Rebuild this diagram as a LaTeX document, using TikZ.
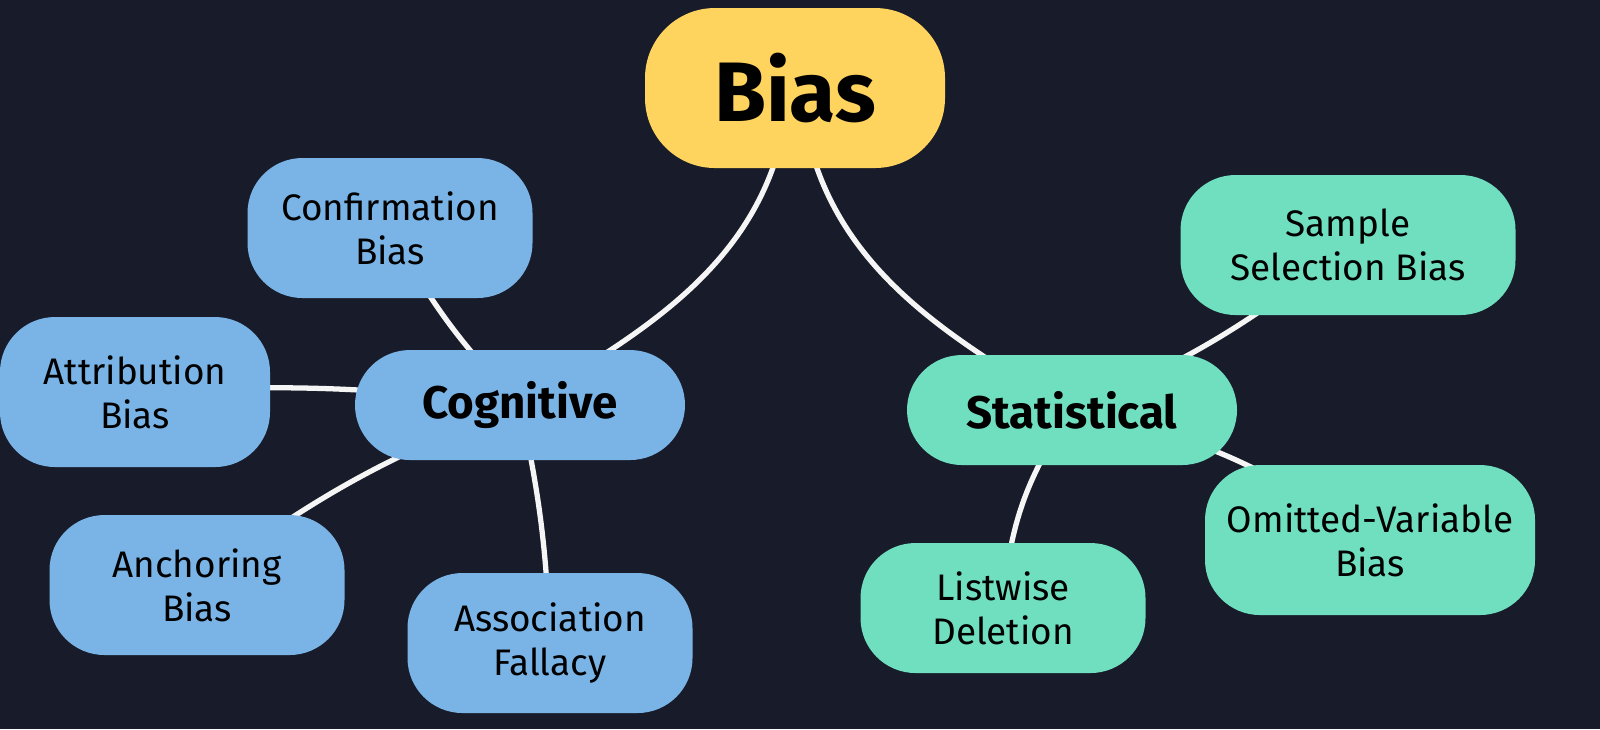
\documentclass[tikz,border=0pt]{standalone}
\usepackage{fontspec}
\setmainfont{Fira Sans}
\usetikzlibrary{positioning}
\definecolor{bgc}{HTML}{181C2A}
\definecolor{biasc}{HTML}{FFD45E}
\definecolor{cogc}{HTML}{7AB4E6}
\definecolor{statc}{HTML}{6FDFC0}
\pgfdeclarelayer{bg}
\pgfdeclarelayer{edges}
\pgfsetlayers{bg,edges,main}
\begin{document}
\begin{tikzpicture}[
  blob/.style={rectangle,rounded corners=0.55cm,align=center,text=black,inner sep=0pt},
  leaf/.style={blob,font=\fontsize{10.5}{12.5}\selectfont},
  cogleaf/.style={leaf,fill=cogc},
  statleaf/.style={leaf,fill=statc},
  branch/.style={blob,font=\fontsize{13}{15}\selectfont\bfseries},
  link/.style={draw=white!92!gray,line width=1.5pt}]
\begin{pgfonlayer}{bg}
\fill[bgc] (0,0) rectangle (16,-7.29);
\end{pgfonlayer}
\useasboundingbox (0,0) rectangle (16,-7.29);

\node[blob,fill=biasc,minimum width=3cm,minimum height=1.6cm,rounded corners=0.7cm,font=\fontsize{24}{28}\selectfont\bfseries] (bias) at (7.95,-0.88) {Bias};

\node[branch,fill=cogc,minimum width=3.3cm,minimum height=1.1cm] (cog) at (5.2,-4.05) {Cognitive};
\node[cogleaf,minimum width=2.85cm,minimum height=1.4cm] (conf) at (3.9,-2.28) {Confirmation\\Bias};
\node[cogleaf,minimum width=2.7cm,minimum height=1.5cm] (attr) at (1.35,-3.92) {Attribution\\Bias};
\node[cogleaf,minimum width=2.95cm,minimum height=1.4cm] (anch) at (1.97,-5.85) {Anchoring\\Bias};
\node[cogleaf,minimum width=2.85cm,minimum height=1.4cm] (assoc) at (5.5,-6.43) {Association\\Fallacy};

\node[branch,fill=statc,minimum width=3.3cm,minimum height=1.1cm] (stat) at (10.72,-4.1) {Statistical};
\node[statleaf,minimum width=3.35cm,minimum height=1.4cm] (sample) at (13.48,-2.45) {Sample\\Selection Bias};
\node[statleaf,minimum width=3.3cm,minimum height=1.5cm] (omit) at (13.7,-5.4) {Omitted-Variable\\Bias};
\node[statleaf,minimum width=2.85cm,minimum height=1.3cm] (list) at (10.03,-6.08) {Listwise\\Deletion};

\begin{pgfonlayer}{edges}
\draw[link] (bias.center) ++(-0.05,0) to[out=-95,in=30] (cog.center);
\draw[link] (bias.center) ++(0.05,0) to[out=-85,in=150] (stat.center);
\draw[link] (cog.center) to[bend left=8] (conf.center);
\draw[link] (cog.center) to[bend right=5] (attr.center);
\draw[link] (cog.center) to[bend right=8] (anch.center);
\draw[link] (cog.center) to[bend left=5] (assoc.center);
\draw[link] (stat.center) to[bend right=8] (sample.center);
\draw[link] (stat.center) to[bend left=12] (omit.center);
\draw[link] (stat.center) to[bend right=15] (list.center);
\end{pgfonlayer}
\end{tikzpicture}
\end{document}
